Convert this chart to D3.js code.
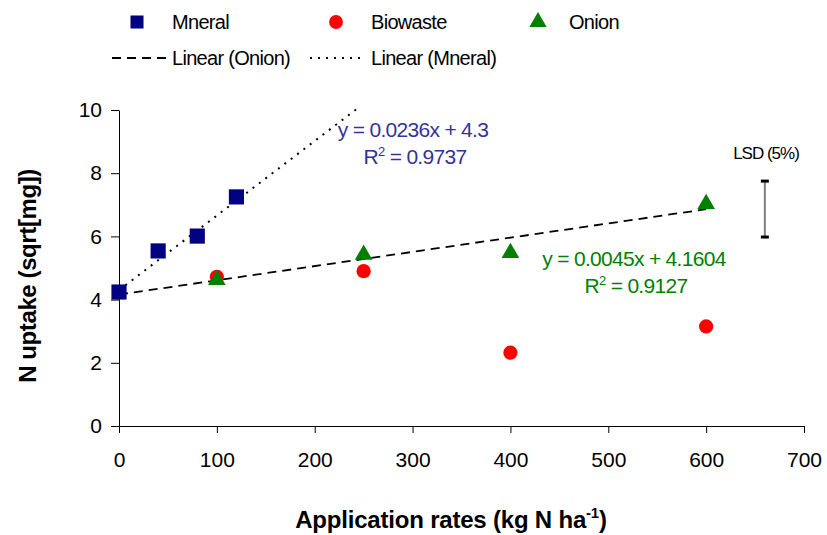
<!DOCTYPE html>
<html lang="en">
<head>
    <meta charset="UTF-8">
    <title>N uptake</title>
    <script src="https://d3js.org/d3.v7.min.js"></script>
    <style>
        body { margin: 0; background: #fff; }
        text { font-family: "Liberation Sans", Arial, sans-serif; }
    </style>
</head>
<body>
    <div id="chart"></div>
    <script>
        // data
        const mineralX = [0, 40, 80, 120];
        const mineralY = [4.24, 5.54, 6.01, 7.25];
        const biowasteX = [100, 250, 400, 600];
        const biowasteY = [4.72, 4.9, 2.32, 3.15];
        const onionX = [100, 250, 400, 600];
        const onionY = [4.62, 5.42, 5.48, 7.03];
        const xTicks = [0, 100, 200, 300, 400, 500, 600, 700];
        const yTicks = [0, 2, 4, 6, 8, 10];
        const mineralFit = { slope: 0.0236, intercept: 4.3 };
        const onionFit = { slope: 0.0045, intercept: 4.1604 };
        const lsd = { x: 660, low: 5.98, high: 7.75 };

        const W = 827, H = 535;
        const margin = { top: 110, right: 23, bottom: 109, left: 119 };

        const svg = d3.select("#chart").append("svg")
            .attr("width", W).attr("height", H);

        const x = d3.scaleLinear().domain([0, 700]).range([margin.left, W - margin.right]);
        const y = d3.scaleLinear().domain([0, 10]).range([H - margin.bottom, margin.top]);

        // axes
        svg.append("g")
            .attr("transform", `translate(0,${y(0)})`)
            .call(d3.axisBottom(x).tickValues(xTicks).tickSize(7).tickPadding(19).tickSizeOuter(0))
            .call(g => g.selectAll("text").attr("font-size", 21).attr("fill", "#000"))
            .call(g => g.selectAll("line,path").attr("stroke", "#000"));

        svg.append("g")
            .attr("transform", `translate(${x(0)},0)`)
            .call(d3.axisLeft(y).tickValues(yTicks).tickSize(8).tickPadding(9).tickSizeOuter(0))
            .call(g => g.selectAll("text").attr("font-size", 21).attr("fill", "#000"))
            .call(g => g.selectAll("line,path").attr("stroke", "#000"));

        // axis titles
        const xt = svg.append("text")
            .attr("x", 451).attr("y", 528)
            .attr("text-anchor", "middle")
            .attr("font-size", 24).attr("font-weight", "bold").attr("letter-spacing", -0.2)
            .text("Application rates (kg N ha");
        xt.append("tspan").attr("dy", -10).attr("font-size", 15).text("-1");
        xt.append("tspan").attr("dy", 10).text(")");

        svg.append("text")
            .attr("transform", `translate(36,276) rotate(-90)`)
            .attr("text-anchor", "middle")
            .attr("font-size", 24).attr("font-weight", "bold").attr("letter-spacing", -0.4)
            .text("N uptake (sqrt[mg])");

        // trend lines
        const mineralEnd = 245;
        svg.append("line")
            .attr("x1", x(0)).attr("y1", y(mineralFit.intercept))
            .attr("x2", x(mineralEnd)).attr("y2", y(mineralFit.intercept + mineralFit.slope * mineralEnd))
            .attr("stroke", "#000").attr("stroke-width", 2).attr("stroke-dasharray", "2,6");

        svg.append("line")
            .attr("x1", x(0)).attr("y1", y(onionFit.intercept))
            .attr("x2", x(600)).attr("y2", y(onionFit.intercept + onionFit.slope * 600))
            .attr("stroke", "#000").attr("stroke-width", 1.8).attr("stroke-dasharray", "9,6");

        // markers
        const sym = (type, size) => d3.symbol().type(type).size(size)();

        svg.append("g").selectAll("path")
            .data(d3.zip(biowasteX, biowasteY)).join("path")
            .attr("transform", d => `translate(${x(d[0])},${y(d[1])})`)
            .attr("d", sym(d3.symbolCircle, 160)).attr("fill", "#ff0000");

        svg.append("g").selectAll("path")
            .data(d3.zip(onionX, onionY)).join("path")
            .attr("transform", d => `translate(${x(d[0])},${y(d[1])})`)
            .attr("d", sym(d3.symbolTriangle, 135)).attr("fill", "#008000");

        svg.append("g").selectAll("path")
            .data(d3.zip(mineralX, mineralY)).join("path")
            .attr("transform", d => `translate(${x(d[0])},${y(d[1])})`)
            .attr("d", sym(d3.symbolSquare, 230)).attr("fill", "#000080");

        // LSD bar
        svg.append("line")
            .attr("x1", x(lsd.x)).attr("x2", x(lsd.x))
            .attr("y1", y(lsd.low)).attr("y2", y(lsd.high))
            .attr("stroke", "#808080").attr("stroke-width", 2);
        [lsd.low, lsd.high].forEach(v => svg.append("line")
            .attr("x1", x(lsd.x) - 4).attr("x2", x(lsd.x) + 4)
            .attr("y1", y(v)).attr("y2", y(v))
            .attr("stroke", "#000").attr("stroke-width", 3));
        svg.append("text")
            .attr("x", 766).attr("y", 159)
            .attr("text-anchor", "middle")
            .attr("font-size", 17).attr("letter-spacing", -1)
            .text("LSD (5%)");

        // equations
        function equation(cx, cy, fit, r2, color) {
            svg.append("text")
                .attr("x", cx).attr("y", cy)
                .attr("text-anchor", "middle").attr("fill", color)
                .attr("font-size", 21).attr("letter-spacing", -0.7)
                .text(`y = ${fit.slope}x + ${fit.intercept}`);
            const t = svg.append("text")
                .attr("x", cx + 2).attr("y", cy + 27)
                .attr("text-anchor", "middle").attr("fill", color)
                .attr("font-size", 21).attr("letter-spacing", -0.7)
                .text("R");
            t.append("tspan").attr("dy", -8).attr("font-size", 13).text("2");
            t.append("tspan").attr("dy", 8).text(` = ${r2}`);
        }
        equation(413, 137, mineralFit, 0.9737, "#333399");
        equation(634, 266, onionFit, 0.9127, "#008000");

        // legend
        const legend = svg.append("g").attr("font-size", 20).attr("letter-spacing", -0.7);
        const items = [
            { lx: 137, tx: 172, type: d3.symbolSquare, size: 170, color: "#000080", label: "Mneral" },
            { lx: 336, tx: 371, type: d3.symbolCircle, size: 150, color: "#ff0000", label: "Biowaste" },
            { lx: 538, tx: 569, type: d3.symbolTriangle, size: 130, color: "#008000", label: "Onion" }
        ];
        items.forEach(d => {
            legend.append("path").attr("transform", `translate(${d.lx},22)`)
                .attr("d", sym(d.type, d.size)).attr("fill", d.color);
            legend.append("text").attr("x", d.tx).attr("y", 29).text(d.label);
        });
        legend.append("line").attr("x1", 112).attr("x2", 166).attr("y1", 58).attr("y2", 58)
            .attr("stroke", "#000").attr("stroke-width", 1.8).attr("stroke-dasharray", "9,6");
        legend.append("text").attr("x", 172).attr("y", 65).text("Linear (Onion)");
        legend.append("line").attr("x1", 310).attr("x2", 366).attr("y1", 58).attr("y2", 58)
            .attr("stroke", "#000").attr("stroke-width", 2).attr("stroke-dasharray", "2,6");
        legend.append("text").attr("x", 371).attr("y", 65).text("Linear (Mneral)");
    </script>
</body>
</html>
